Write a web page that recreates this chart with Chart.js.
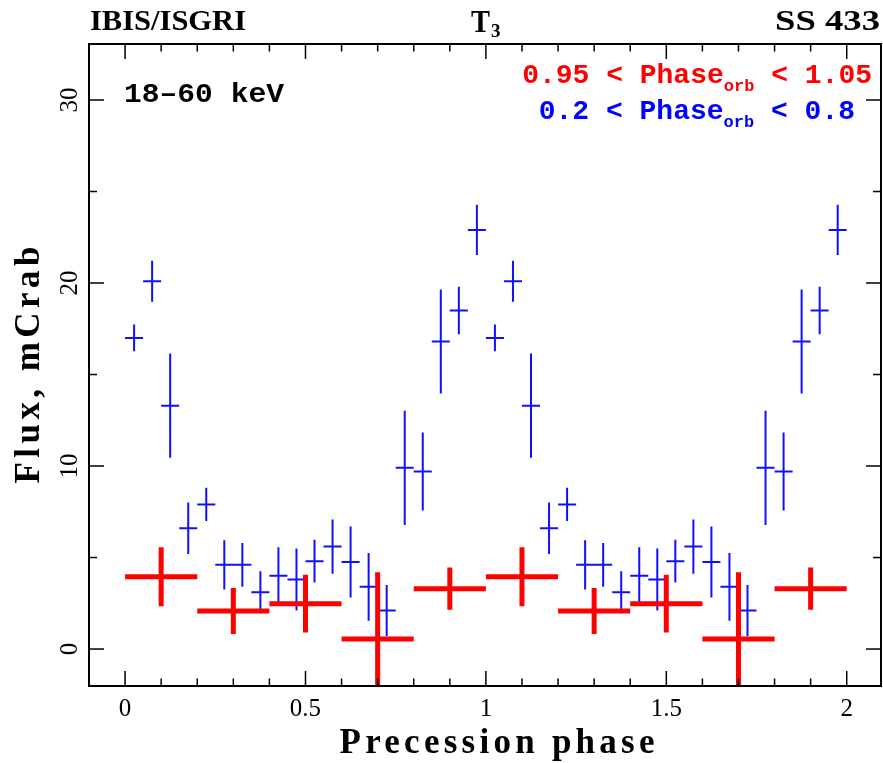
<!DOCTYPE html>
<html>
<head>
<meta charset="utf-8">
<script src="https://cdn.jsdelivr.net/npm/chart.js@4/dist/chart.umd.min.js"></script>
<style>
  html, body { margin: 0; padding: 0; background: #fff; }
  #wrap { width: 883px; height: 763px; }
</style>
</head>
<body>
<div id="wrap"><canvas id="phaseChart" width="883" height="763"></canvas></div>
<script>
// --- DATA (the plot shows two identical cycles) ---
const phaseBlue = [
  0.025, 0.075, 0.125, 0.175, 0.225, 0.275, 0.325, 0.375, 0.425, 0.475,
  0.525, 0.575, 0.625, 0.675, 0.725, 0.775, 0.825, 0.875, 0.925, 0.975,
  1.025, 1.075, 1.125, 1.175, 1.225, 1.275, 1.325, 1.375, 1.425, 1.475,
  1.525, 1.575, 1.625, 1.675, 1.725, 1.775, 1.825, 1.875, 1.925, 1.975
];
const fluxBlue = [
  17.0, 20.1, 13.3, 6.6, 7.9, 4.6, 4.6, 3.1, 4.0, 3.8,
  4.8, 5.6, 4.75, 3.4, 2.1, 9.9, 9.7, 16.8, 18.5, 22.9,
  17.0, 20.1, 13.3, 6.6, 7.9, 4.6, 4.6, 3.1, 4.0, 3.8,
  4.8, 5.6, 4.75, 3.4, 2.1, 9.9, 9.7, 16.8, 18.5, 22.9
];
const errBlue = [
  0.73, 1.12, 2.85, 1.41, 0.91, 1.35, 1.19, 1.15, 1.56, 1.69,
  1.17, 1.48, 1.94, 1.85, 1.40, 3.12, 2.13, 2.84, 1.30, 1.37,
  0.73, 1.12, 2.85, 1.41, 0.91, 1.35, 1.19, 1.15, 1.56, 1.69,
  1.17, 1.48, 1.94, 1.85, 1.40, 3.12, 2.13, 2.84, 1.30, 1.37
];
const halfBinBlue = 0.025;

const phaseRed = [0.1, 0.3, 0.5, 0.7, 0.9, 1.1, 1.3, 1.5, 1.7, 1.9];
const fluxRed  = [3.95, 2.08, 2.48, 0.55, 3.3, 3.95, 2.08, 2.48, 0.55, 3.3];
const errRed   = [1.61, 1.26, 1.58, 3.64, 1.15, 1.61, 1.26, 1.58, 3.64, 1.15];
const halfBinRed = 0.1;

const xTickLabels = [0, 0.5, 1, 1.5, 2];
const yTickLabels = [0, 10, 20, 30];

// turn centre/error arrays into cross segments, separated by gaps
function crosses(xs, ys, dy, dx) {
  const pts = [];
  xs.forEach((c, i) => {
    pts.push({ x: c - dx, y: ys[i] }, { x: c + dx, y: ys[i] }, { x: c, y: null });
    pts.push({ x: c, y: ys[i] - dy[i] }, { x: c, y: ys[i] + dy[i] }, { x: c, y: null });
  });
  return pts;
}

function line(ctx, x1, y1, x2, y2) {
  ctx.beginPath(); ctx.moveTo(x1, y1); ctx.lineTo(x2, y2); ctx.stroke();
}

// draw text stretched/squeezed to a target width
function fitText(ctx, text, x, y, width, align) {
  const w = ctx.measureText(text).width;
  ctx.save();
  ctx.translate(x, y);
  ctx.scale(width / w, 1);
  ctx.textAlign = align || 'left';
  ctx.fillText(text, 0, 0);
  ctx.restore();
}

// draw centred text widened with letter spacing to a target width
function spacedText(ctx, text, x, y, width) {
  ctx.save();
  ctx.letterSpacing = '0px';
  const w = ctx.measureText(text).width;
  const gap = Math.max(0, (width - w) / (text.length - 1));
  ctx.letterSpacing = gap + 'px';
  ctx.textAlign = 'left';
  ctx.fillText(text, x - width / 2, y);
  ctx.restore();
}

// right-aligned "a < Phase_orb < b" label
function orbLabel(ctx, pre, post, right, base, color) {
  const big = 'bold 28px "Liberation Mono"', small = 'bold 17px "Liberation Mono"';
  ctx.font = big; const w1 = ctx.measureText(pre).width, w3 = ctx.measureText(post).width;
  ctx.font = small; const w2 = ctx.measureText('orb').width;
  let x = right - (w1 + w2 + w3);
  ctx.fillStyle = color; ctx.textAlign = 'left';
  ctx.font = big; ctx.fillText(pre, x, base); x += w1;
  ctx.font = small; ctx.fillText('orb', x, base + 8); x += w2;
  ctx.font = big; ctx.fillText(post, x, base);
}

const framePlugin = {
  id: 'frame',
  afterDraw(chart) {
    const { ctx, chartArea: a, scales: { x, y } } = chart;
    ctx.save();
    ctx.strokeStyle = '#000';
    ctx.lineWidth = 1.5;
    // minor/major ticks, pointing inward on all four sides
    for (let i = 0; i <= 20; i++) {
      const px = x.getPixelForValue(i / 10);
      const len = i % 5 === 0 ? 15 : 7.5;
      line(ctx, px, a.bottom, px, a.bottom - len);
      line(ctx, px, a.top, px, a.top + len);
    }
    for (let v = 0; v <= 30; v += 5) {
      const py = y.getPixelForValue(v);
      const len = v % 10 === 0 ? 15 : 8;
      line(ctx, a.left, py, a.left + len, py);
      line(ctx, a.right, py, a.right - len, py);
    }
    ctx.lineWidth = 2;
    ctx.strokeRect(a.left, a.top, a.right - a.left, a.bottom - a.top);

    // tick labels
    ctx.fillStyle = '#000';
    ctx.font = '25px "Liberation Serif"';
    ctx.textAlign = 'center';
    ctx.textBaseline = 'alphabetic';
    xTickLabels.forEach(v => ctx.fillText(String(v), x.getPixelForValue(v), 716));
    yTickLabels.forEach(v => {
      ctx.save();
      ctx.translate(77, y.getPixelForValue(v));
      ctx.rotate(-Math.PI / 2);
      ctx.fillText(String(v), 0, 0);
      ctx.restore();
    });

    // axis titles
    ctx.font = 'bold 35px "Liberation Serif"';
    spacedText(ctx, 'Precession phase', 497, 753, 315);
    ctx.save();
    ctx.translate(39, 365);
    ctx.rotate(-Math.PI / 2);
    spacedText(ctx, 'Flux, mCrab', 0, 0, 237);
    ctx.restore();

    // header
    ctx.font = 'bold 29px "Liberation Serif"';
    fitText(ctx, 'IBIS/ISGRI', 90, 30, 156, 'left');
    fitText(ctx, 'SS 433', 880, 30, 105, 'right');
    ctx.font = 'bold 32px "Liberation Serif"';
    fitText(ctx, 'T', 471, 32, 19, 'left');
    ctx.font = 'bold 19px "Liberation Serif"';
    ctx.textAlign = 'left';
    ctx.fillText('3', 491, 37);

    // band and orbital-phase labels
    ctx.font = 'bold 28px "Liberation Mono"';
    fitText(ctx, '18\u201360 keV', 124, 102, 160, 'left');
    orbLabel(ctx, '0.95 < Phase', ' < 1.05', 872, 83, '#ff0000');
    orbLabel(ctx, '0.2 < Phase', ' < 0.8', 855, 119, '#0000ff');
    ctx.restore();
  }
};

new Chart(document.getElementById('phaseChart'), {
  type: 'scatter',
  data: {
    datasets: [
      {
        label: '0.95 < Phase_orb < 1.05',
        data: crosses(phaseRed, fluxRed, errRed, halfBinRed),
        showLine: true, spanGaps: false,
        borderColor: '#ff0000', borderWidth: 5, borderCapStyle: 'butt',
        pointRadius: 0, clip: 0, order: 0
      },
      {
        label: '0.2 < Phase_orb < 0.8',
        data: crosses(phaseBlue, fluxBlue, errBlue, halfBinBlue),
        showLine: true, spanGaps: false,
        borderColor: '#1010ff', borderWidth: 2, borderCapStyle: 'butt',
        pointRadius: 0, clip: 0, order: 1
      }
    ]
  },
  options: {
    responsive: false,
    animation: false,
    devicePixelRatio: 1,
    layout: { padding: { left: 89, top: 44, right: 2, bottom: 77 } },
    plugins: { legend: { display: false }, tooltip: { enabled: false } },
    scales: {
      x: { type: 'linear', min: -0.1, max: 2.095, display: false },
      y: { type: 'linear', min: -2.02, max: 33.06, display: false }
    }
  },
  plugins: [framePlugin]
});
</script>
</body>
</html>
